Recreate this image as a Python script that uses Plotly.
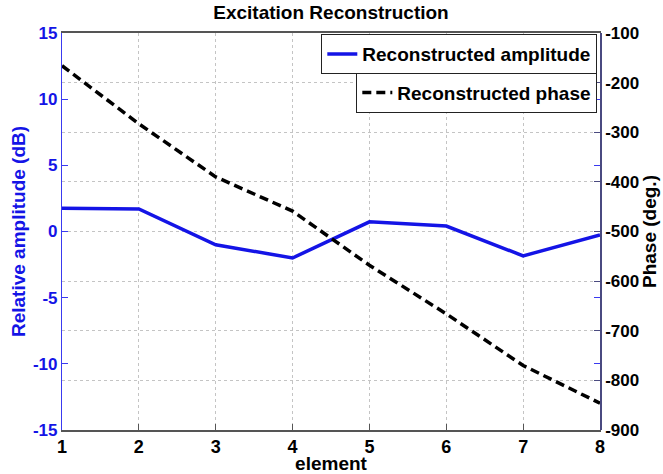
import plotly.graph_objects as go

# Element index along the array
element = [1, 2, 3, 4, 5, 6, 7, 8]

# Reconstructed excitation: amplitude (dB) and phase (degrees)
amplitude_db = [1.75, 1.7, -1.0, -2.0, 0.73, 0.41, -1.84, -0.26]
phase_deg = [-166, -283, -390, -459, -568, -666, -770, -846]

amp_ticks = [-15, -10, -5, 0, 5, 10, 15]
phase_ticks = [-900, -800, -700, -600, -500, -400, -300, -200, -100]

FONT = "Liberation Sans, Arial, sans-serif"
BLUE = "#1414e6"
GRID = "#c4c4c4"


def hyphen_labels(values):
    # plain ASCII hyphen for negative tick labels
    return [str(v) for v in values]


fig = go.Figure()

fig.add_trace(go.Scatter(
    x=element, y=amplitude_db, mode="lines",
    name="Reconstructed amplitude",
    line=dict(color=BLUE, width=3.5),
    yaxis="y", legend="legend", showlegend=True,
))

fig.add_trace(go.Scatter(
    x=element, y=phase_deg, mode="lines",
    name="Reconstructed phase",
    line=dict(color="black", width=3.5, dash="9px,5px"),
    yaxis="y2", legend="legend2", showlegend=True,
))

legend_style = dict(
    font=dict(family=FONT, size=19, color="black", weight="bold"),
    bgcolor="white", bordercolor="#222222", borderwidth=1,
    xanchor="right", yanchor="top", xref="paper", yref="paper",
    itemwidth=30, tracegroupgap=0, visible=True,
)

fig.update_layout(
    width=663, height=474,
    margin=dict(l=62, r=63, t=33, b=44),
    paper_bgcolor="white", plot_bgcolor="white",
    font=dict(family=FONT, color="black"),
    showlegend=True,
    title=dict(
        text="Excitation Reconstruction",
        font=dict(family=FONT, size=19, color="black", weight="bold"),
        x=0.5, xref="paper", xanchor="center",
        y=0.974, yref="container", yanchor="middle",
    ),
    legend=dict(x=0.995, y=0.997, **legend_style),
    legend2=dict(x=0.995, y=0.9, **legend_style),
    xaxis=dict(
        range=[1, 8], tickvals=element, automargin=False,
        tickfont=dict(family=FONT, size=18, color="black", weight="bold"),
        showgrid=True, gridcolor=GRID, griddash="dot", gridwidth=1,
        showline=True, linecolor="#555555", linewidth=1.5, mirror=True,
        ticks="inside", ticklen=6, tickcolor="#555555",
        zeroline=False,
        title=dict(text="element", standoff=0,
                   font=dict(family=FONT, size=19, color="black", weight="bold")),
    ),
    yaxis=dict(
        range=[-15, 15], tickvals=amp_ticks, ticktext=hyphen_labels(amp_ticks),
        automargin=False,
        tickfont=dict(family=FONT, size=17, color=BLUE, weight="bold"),
        showgrid=False, zeroline=False,
        showline=True, linecolor="#3a3af0", linewidth=1.2, mirror="ticks",
        ticks="inside", ticklen=6, tickcolor="#3a3af0",
        title=dict(text="Relative amplitude (dB)", standoff=2,
                   font=dict(family=FONT, size=19, color=BLUE, weight="bold")),
    ),
    yaxis2=dict(
        range=[-900, -100], tickvals=phase_ticks,
        ticktext=hyphen_labels(phase_ticks), automargin=False,
        overlaying="y", side="right",
        tickfont=dict(family=FONT, size=17, color="black", weight="bold"),
        showgrid=True, gridcolor=GRID, griddash="dot", gridwidth=1,
        zeroline=False,
        showline=True, linecolor="#4a4a80", linewidth=1.5,
        ticks="inside", ticklen=6, tickcolor="#4a4a80",
        title=dict(text="Phase (deg.)", standoff=1,
                   font=dict(family=FONT, size=19, color="black", weight="bold")),
    ),
)

fig.write_html("out.html")
